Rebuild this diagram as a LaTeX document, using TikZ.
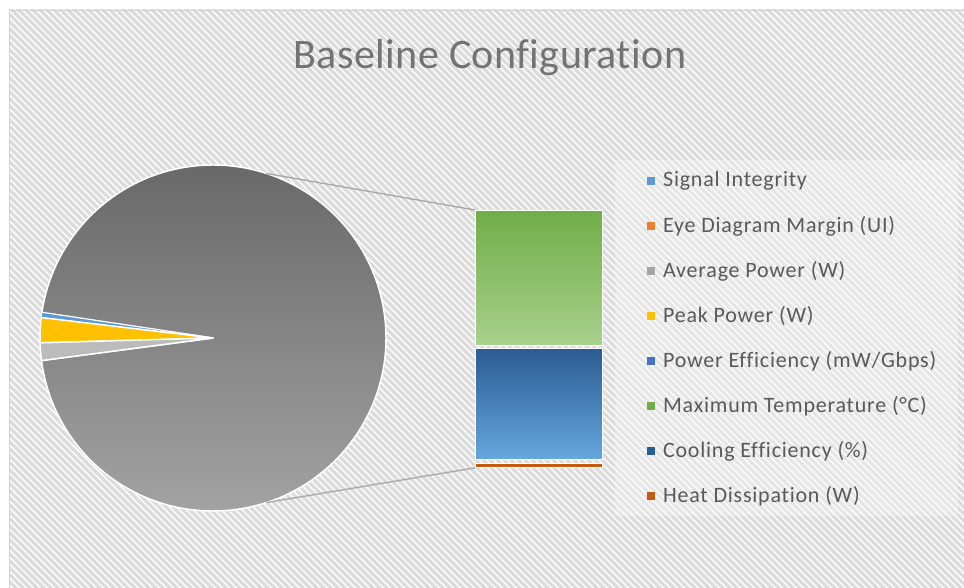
\documentclass[tikz,border=0pt]{standalone}
\usepackage{fontspec}
\setmainfont{Carlito}[Ligatures=NoCommon]
\newfontfamily\legfont{Carlito}[Ligatures=NoCommon, LetterSpace=3.5]
\newfontfamily\ttlfont{Carlito}[Ligatures=NoCommon, LetterSpace=1]
\usepackage{xcolor}
\usepackage{tikz}
\usetikzlibrary{positioning,calc}
\definecolor{ttlGray}{HTML}{737373}
\definecolor{legText}{HTML}{595959}
\definecolor{hatchGray}{HTML}{DCDCDC}
\definecolor{frameGray}{HTML}{D0D0D0}
\definecolor{linkGray}{HTML}{A6A6A6}
\definecolor{pieTop}{HTML}{676767}
\definecolor{pieBot}{HTML}{A4A4A4}
\definecolor{grnTop}{HTML}{70AD47}
\definecolor{grnBot}{HTML}{A9D18E}
\definecolor{bluTop}{HTML}{2B5C93}
\definecolor{bluBot}{HTML}{67A6DE}
\definecolor{kSig}{HTML}{5B9BD5}
\definecolor{kEye}{HTML}{ED7D31}
\definecolor{kAvg}{HTML}{A5A5A5}
\definecolor{kPeak}{HTML}{FFC000}
\definecolor{kPow}{HTML}{4472C4}
\definecolor{kMax}{HTML}{70AD47}
\definecolor{kCool}{HTML}{255E91}
\definecolor{kHeat}{HTML}{C55A11}
\tikzset{
  px/.style={x=1pt, y=1pt},
  h line/.style={draw=hatchGray, line width=3.2pt},
  p slice/.style={draw=white, line width=1.5pt, line join=round},
  b seg/.style={draw=white, line width=1.2pt, minimum width=127pt, inner sep=0pt, anchor=north west},
  c link/.style={draw=linkGray, line width=1.3pt},
  c title/.style={font=\ttlfont\fontsize{42}{46}\selectfont, text=ttlGray, inner sep=0pt},
  l key/.style={fill=#1, minimum size=7.5pt, inner sep=0pt},
  l text/.style={font=\legfont\fontsize{22}{24}\selectfont, text=legText, inner sep=0pt},
}

\begin{document}
\begin{tikzpicture}[px]
\useasboundingbox (0,0) rectangle (964,587);
% chart area with hatching
\fill[white] (0,0) rectangle (964,587);
\begin{scope}
\clip (9,0) rectangle (964,577);
\foreach \i in {-600,-593,...,964} \draw[h line] (\i,587) -- ++(600,-600);
\end{scope}
\draw[frameGray, line width=0.8pt] (9,0) -- (9,577) -- (964,577);
\fill[white, opacity=0.3] (615,71) rectangle (958,427);
\node[c title] (ttl) at (490,529) {Baseline Configuration};
% pie
\coordinate (pc) at (213,249);
\coordinate (rimT) at ($(pc)+(72:173)$);
\coordinate (rimB) at ($(pc)+(-72:173)$);
\shade[p slice, top color=pieTop, bottom color=pieBot] (pc) -- ++(187.5:173) arc[start angle=187.5, end angle=531.5, radius=173] -- cycle;
\fill[p slice, fill=kSig, line width=0.8pt] (pc) -- ++(171.5:173) arc[start angle=171.5, end angle=173.2, radius=173] -- cycle;
\fill[p slice, fill=kPeak] (pc) -- ++(173.2:173) arc[start angle=173.2, end angle=181.6, radius=173] -- cycle;
\fill[p slice, fill=kAvg!75] (pc) -- ++(181.6:173) arc[start angle=181.6, end angle=187.5, radius=173] -- cycle;
% bar
\node[b seg, top color=grnTop, bottom color=grnBot, minimum height=135pt] (grn) at (475,377) {};
\node[b seg, top color=bluTop, bottom color=bluBot, minimum height=111pt] (blu) at (475,239) {};
\node[b seg, fill=kHeat, minimum height=4pt, line width=0.8pt] (org) at (475,124) {};
\draw[c link] (rimT) -- (grn.north west);
\draw[c link] (rimB) -- (org.south west);
% legend
\foreach \lab/\col [count=\k] in {Signal Integrity/kSig, Eye Diagram Margin (UI)/kEye, Average Power (W)/kAvg, Peak Power (W)/kPeak, {Power Efficiency (mW/Gbps)}/kPow, Maximum Temperature (°C)/kMax, Cooling Efficiency (\%)/kCool, Heat Dissipation (W)/kHeat} {
  \node[l key=\col] (key\k) at (651,451-45*\k) {};
  \node[l text, right=8pt of key\k] (lab\k) {\lab};
}
\end{tikzpicture}
\end{document}
